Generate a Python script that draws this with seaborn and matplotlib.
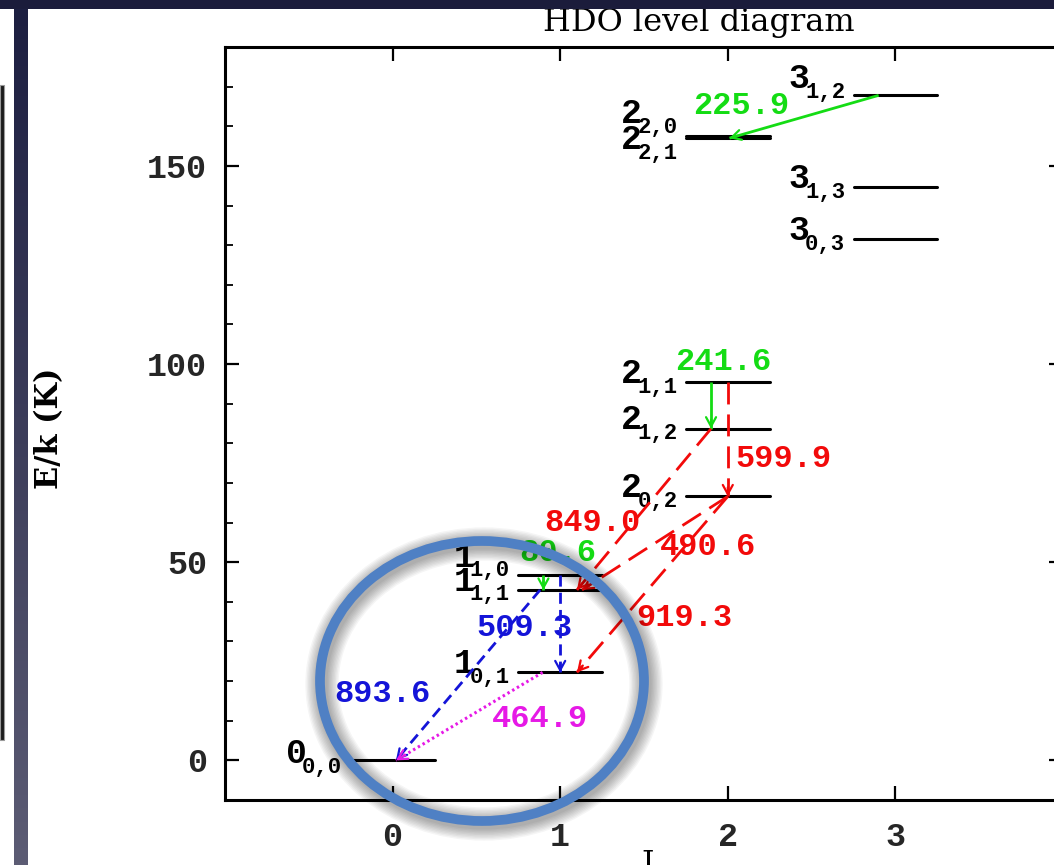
import numpy as np
import pandas as pd
import matplotlib
matplotlib.use("Agg")
import matplotlib.pyplot as plt
import seaborn as sns
from matplotlib.patches import Ellipse, Rectangle
from matplotlib.ticker import MultipleLocator, FixedLocator

# ---------------------------------------------------------------------------
# HDO rotational levels J_{Ka,Kc}: energy above ground E/k in K
# ---------------------------------------------------------------------------
level_names = ["0_00", "1_01", "1_11", "1_10", "2_02", "2_12", "2_11",
               "3_03", "3_13", "2_21", "2_20", "3_12"]
level_J = [0, 1, 1, 1, 2, 2, 2, 3, 3, 2, 2, 3]
level_sub = ["0,0", "0,1", "1,1", "1,0", "0,2", "1,2", "1,1",
             "0,3", "1,3", "2,1", "2,0", "1,2"]
level_energy = [0.0, 22.2, 43.0, 46.8, 66.6, 83.7, 95.4,
                131.5, 144.6, 157.0, 157.5, 167.8]

# Radiative transitions, frequency in GHz
trans_freq = ["225.9", "241.6", "599.9", "849.0", "490.6",
              "919.3", "509.3", "80.6", "893.6", "464.9"]
trans_upper = ["3_12", "2_11", "2_11", "2_12", "2_02",
               "2_02", "1_10", "1_10", "1_11", "1_01"]
trans_lower = ["2_21", "2_12", "2_02", "1_11", "1_11",
               "1_01", "1_01", "1_11", "0_00", "0_00"]
trans_kind = ["green", "green", "red", "red", "red",
              "red", "blue", "green", "blue", "magenta"]

# ---------------------------------------------------------------------------
# Layout: where each arrow leaves / meets its level, and label anchors
# ---------------------------------------------------------------------------
arrow_x_from = [2.90, 1.90, 2.00, 1.90, 2.00, 2.00, 1.00, 0.90, 0.88, 0.895]
arrow_x_to = [2.01, 1.90, 2.00, 1.10, 1.13, 1.10, 1.00, 0.90, 0.02, 0.02]
label_anchor = [(2.08, 166.0), (1.97, 101.4), (2.33, 76.9), (1.19, 60.7),
                (1.88, 54.6), (1.74, 36.7), (0.79, 34.4), (0.985, 53.1),
                (-0.06, 17.7), (0.88, 11.4)]
# vertical shift of a level's name (pixels) where names would collide
name_shift = {"1_10": 9, "2_20": 14, "2_21": -10, "3_12": 8, "0_00": -2}

styles = {
    "green": dict(color="#14dc14", ls="-", lw=2.0),
    "red": dict(color="#f20a0a", ls=(0, (7.9, 3.6)), lw=2.0),
    "blue": dict(color="#1414d8", ls=(0, (4.0, 2.2)), lw=2.0),
    "magenta": dict(color="#e619e6", ls=(0, (0.8, 1.0)), lw=2.2),
}

W, H = 1054, 865
half_width = 0.25

sns.set_theme(style="ticks")
plt.rcParams["font.family"] = ["Liberation Mono", "DejaVu Sans"]

fig = plt.figure(figsize=(W / 100, H / 100), dpi=100, facecolor="white")


def fx(px):
    return px / W


def fy(py):
    return 1 - py / H


ax = fig.add_axes([fx(225), fy(800), fx(1063) - fx(225), fy(47) - fy(800)])
ax.set_facecolor("white")
ax.set_xlim(-1, 4)
ax.set_ylim(-10, 180)

energy = dict(zip(level_names, level_energy))

# level bars
rows = []
for name, J, E in zip(level_names, level_J, level_energy):
    rows.append({"level": name, "x": J - half_width, "E": E})
    rows.append({"level": name, "x": J + half_width, "E": E})
df_levels = pd.DataFrame(rows)
sns.lineplot(data=df_levels, x="x", y="E", units="level", estimator=None,
             color="black", lw=2.2, ax=ax, legend=False, zorder=2.5,
             sort=False)

# level names J with subscript Ka,Kc
main_size, sub_size = 25, 16
for name, J, sub, E in zip(level_names, level_J, level_sub, level_energy):
    shift = name_shift.get(name, 0) * 0.72
    x0 = J - half_width
    sub_w = 3 * 0.6 * sub_size
    ax.annotate(sub, xy=(x0, E), xytext=(-6, -7.5 + shift),
                textcoords="offset points", ha="right", va="baseline",
                fontsize=sub_size, fontweight="bold", color="black",
                family="Liberation Mono", zorder=2)
    ax.annotate(str(J), xy=(x0, E), xytext=(-6 - sub_w + 3, -0.5 + shift),
                textcoords="offset points", ha="right", va="baseline",
                fontsize=main_size, fontweight="bold", color="black",
                family="Liberation Mono", zorder=2)

# transitions
for freq, up, lo, kind, xa, xb, (lx, ly) in zip(
        trans_freq, trans_upper, trans_lower, trans_kind,
        arrow_x_from, arrow_x_to, label_anchor):
    st = styles[kind]
    start = (xa, energy[up])
    tip = (xb, energy[lo])
    ax.plot([start[0], tip[0]], [start[1], tip[1]], color=st["color"],
            ls=st["ls"], lw=st["lw"], zorder=3, solid_capstyle="butt")
    p0 = ax.transData.transform(start)
    p1 = ax.transData.transform(tip)
    u = (p1 - p0) / np.hypot(*(p1 - p0))
    back = ax.transData.inverted().transform(p1 - u * 9)
    ax.annotate("", xy=tip, xytext=back,
                arrowprops=dict(arrowstyle="->,head_length=0.55,head_width=0.3",
                                color=st["color"], lw=1.6, shrinkA=0, shrinkB=0,
                                mutation_scale=12),
                zorder=3)
    ax.text(lx, ly, freq, color=st["color"], fontsize=23, fontweight="bold",
            family="Liberation Mono", ha="center", va="center_baseline",
            zorder=2)

# axes frame and ticks
for sp in ax.spines.values():
    sp.set_visible(True)
    sp.set_linewidth(2.2)
    sp.set_color("black")
ax.xaxis.set_major_locator(FixedLocator([0, 1, 2, 3]))
ax.yaxis.set_major_locator(MultipleLocator(50))
ax.yaxis.set_minor_locator(MultipleLocator(10))
ax.tick_params(which="both", direction="in", top=True, right=True,
               color="black")
ax.tick_params(which="major", length=10, width=1.6)
ax.tick_params(which="minor", length=5.5, width=1.3)
ax.tick_params(axis="y", which="major", pad=13, labelsize=24)
ax.tick_params(axis="x", which="major", pad=16, labelsize=24)
for lab in ax.get_xticklabels() + ax.get_yticklabels():
    lab.set_family("Liberation Mono")
    lab.set_fontweight("bold")
ax.set_xlabel("")
ax.set_ylabel("")

fig.text(fx(699), fy(22), "HDO level diagram", ha="center", va="center",
         fontsize=23, family="DejaVu Serif", color="black")
fig.text(fx(50), fy(428), "E/k (K)", ha="center", va="center", rotation=90,
         fontsize=22, fontweight="bold", family="DejaVu Serif", color="black")
fig.text(fx(648), fy(849), "J", ha="center", va="top",
         fontsize=22, family="DejaVu Serif", color="black")

# highlight ring around the lowest levels, with a soft shadow
cx, cy, ew, eh = 482, 681, 324, 280
for k, lw in enumerate(np.linspace(24, 8, 9)):
    fig.add_artist(Ellipse((fx(cx + 2), fy(cy + 3)), ew / W, eh / H,
                           transform=fig.transFigure, fill=False,
                           edgecolor="black", lw=lw, alpha=0.04, zorder=5))
fig.add_artist(Ellipse((fx(cx), fy(cy)), ew / W, eh / H,
                       transform=fig.transFigure, fill=False,
                       edgecolor="#4f80c4", lw=7, zorder=6))

# slide frame
fig.add_artist(Rectangle((0, fy(9)), 1, 9 / H, transform=fig.transFigure,
                         facecolor="#1b1c3b", edgecolor="none", zorder=7))
fig.add_artist(Rectangle((0, fy(740)), fx(4), (740 - 85) / H,
                         transform=fig.transFigure, facecolor="#1c1c1c",
                         edgecolor="#9a9a9a", lw=0.8, zorder=7))
strip = fig.add_axes([fx(14), 0, fx(13), fy(9)], zorder=8)
top_c = np.array([0x1d, 0x1f, 0x41]) / 255
bot_c = np.array([0x5c, 0x5c, 0x74]) / 255
t = np.linspace(0, 1, 256)[:, None]
grad = (top_c[None, :] * (1 - t) + bot_c[None, :] * t)[:, None, :]
strip.imshow(grad, aspect="auto", extent=[0, 1, 0, 1])
strip.axis("off")

fig.savefig("out.png", dpi=100, facecolor="white")
